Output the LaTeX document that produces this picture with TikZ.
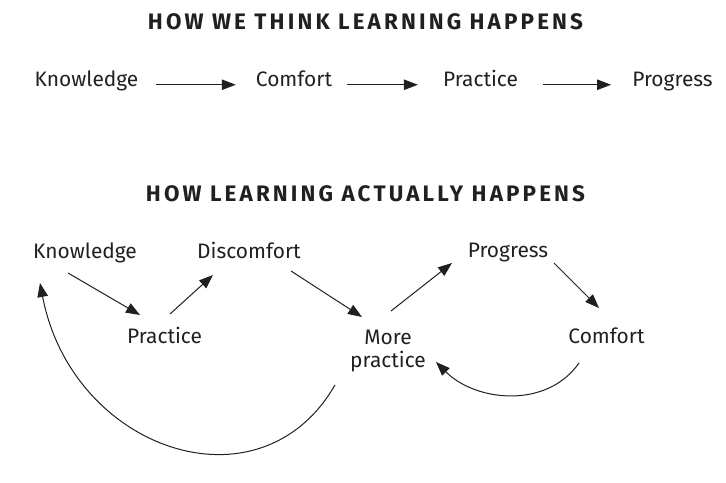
\documentclass[tikz,border=0pt]{standalone}
\usepackage{fontspec}
\setmainfont{Fira Sans}
\newfontfamily\headfont{Fira Sans}[LetterSpace=14]
\usepackage{tikz}
\usetikzlibrary{arrows.meta, positioning, calc}
\definecolor{inkcolor}{RGB}{35, 31, 32}
\newcommand\wordsize{\fontsize{21}{24}\selectfont}

\begin{document}
\begin{tikzpicture}[
    x=1bp, y=1bp,
    heading/.style={font=\headfont\bfseries\fontsize{22.5}{24}\selectfont, text=inkcolor, inner sep=0pt, anchor=base},
    word/.style={font=\wordsize, text=inkcolor, inner sep=0pt, anchor=base, text height=0.65em, text depth=0.2em},
    pair/.style={font=\wordsize, text=inkcolor, inner sep=0pt, anchor=base, align=center},
    arrow/.style={-{Triangle[length=14bp, width=10.5bp]}, line width=1bp, draw=inkcolor}
]
    \useasboundingbox (0,0) rectangle (726,483);

    % What we think
    \node[heading] (think) at (365.5,453) {HOW WE THINK LEARNING HAPPENS};
    \node[word] (know1) at (86.5,396) {Knowledge};
    \node[word] (comf1) at (294,396) {Comfort};
    \node[word] (prac1) at (480.5,396) {Practice};
    \node[word] (prog1) at (672.5,396) {Progress};

    \draw[arrow, shorten <=17bp, shorten >=20bp] (know1) -- (comf1);
    \draw[arrow, shorten <=15bp, shorten >=25bp] (comf1) -- (prac1);
    \draw[arrow, shorten <=25bp, shorten >=21bp] (prac1) -- (prog1);

    % What actually happens
    \node[heading] (actual) at (365.5,281) {HOW LEARNING ACTUALLY HAPPENS};
    \node[word] (know2) at (85,224) {Knowledge};
    \node[word] (disc2) at (249,224) {Discomfort};
    \node[word] (prac2) at (164.5,139) {Practice};
    \node[pair] (more2) at (388,115) {More\\practice};
    \node[word] (prog2) at (508,225) {Progress};
    \node[word] (comf2) at (606.5,139) {Comfort};

    \draw[arrow] ([shift={(-17,-14)}]know2.base) -- ([shift={(-24.5,29)}]prac2.base);
    \draw[arrow] ([shift={(5.5,30)}]prac2.base) -- ([shift={(-36,-16)}]disc2.base);
    \draw[arrow] ([shift={(42,-12)}]disc2.base) -- ([shift={(-26,51)}]more2.base);
    \draw[arrow] ([shift={(3,57)}]more2.base) -- ([shift={(-56,-5)}]prog2.base);
    \draw[arrow] ([shift={(46,-5)}]prog2.base) -- ([shift={(-7.5,36)}]comf2.base);

    % Loops back
    \draw[arrow] ([shift={(-27.5,-19)}]comf2.base) .. controls +(-32,-46) and +(40,-40) .. ([shift={(48,6)}]more2.base);
    \draw[arrow] ([shift={(-53,-17)}]more2.base) .. controls +(-75,-130) and +(32,-167) .. ([shift={(-45,-24)}]know2.base);

\end{tikzpicture}
\end{document}
